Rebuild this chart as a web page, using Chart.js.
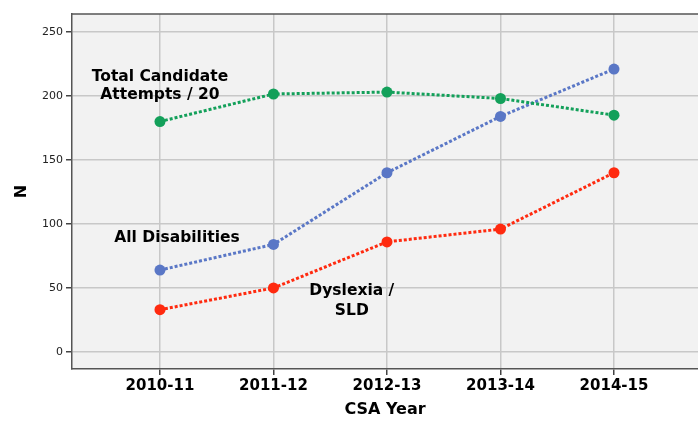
<!DOCTYPE html>
<html>
<head>
<meta charset="utf-8">
<script src="https://cdn.jsdelivr.net/npm/chart.js@4"></script>
<style>
  html, body { margin: 0; padding: 0; background: #fff; }
  #wrap { width: 698px; height: 421px; }
</style>
</head>
<body>
<div id="wrap"><canvas id="chart"></canvas></div>
<script>
const years = ["2010-11", "2011-12", "2012-13", "2013-14", "2014-15"];
const totalAttempts20 = [180, 201.5, 203, 198, 185];
const allDisabilities = [64, 84, 140, 184, 221];
const dyslexiaSld = [33, 50, 86, 96, 140];
const yTicks = [0, 50, 100, 150, 200, 250];

const toPoints = (values) => values.map((v, i) => ({ x: i, y: v }));

const font = "'DejaVu Sans', sans-serif";

// series labels sit inside the plot, placed in data units
const seriesLabels = [
  { lines: ["Total Candidate", "Attempts / 20"], x: 0.0, y: [215, 201] },
  { lines: ["All Disabilities"], x: 0.15, y: [89] },
  { lines: ["Dyslexia /", "SLD"], x: 1.69, y: [48, 32] },
];

const plotBackground = {
  id: "plotBackground",
  beforeDraw(chart) {
    const { ctx, chartArea } = chart;
    ctx.save();
    ctx.fillStyle = "#f2f2f2";
    ctx.fillRect(chartArea.left, chartArea.top, chartArea.right - chartArea.left, chartArea.bottom - chartArea.top);
    ctx.restore();
  },
  afterDatasetsDraw(chart) {
    const { ctx, chartArea, scales } = chart;
    ctx.save();
    ctx.strokeStyle = "#555";
    ctx.lineWidth = 1.5;
    ctx.beginPath();
    ctx.moveTo(chartArea.left, chartArea.top);
    ctx.lineTo(chartArea.right, chartArea.top);
    ctx.stroke();

    ctx.fillStyle = "#000";
    ctx.font = "bold 15.5px " + font;
    ctx.textAlign = "center";
    ctx.textBaseline = "middle";
    seriesLabels.forEach((lbl) => {
      lbl.lines.forEach((line, i) => {
        ctx.fillText(line, scales.x.getPixelForValue(lbl.x), scales.y.getPixelForValue(lbl.y[i]));
      });
    });
    ctx.restore();
  },
};

const makeDataset = (label, values, color) => ({
  label,
  data: toPoints(values),
  borderColor: color,
  backgroundColor: color,
  borderWidth: 3,
  borderDash: [3, 2],
  pointRadius: 5.5,
  pointHoverRadius: 5.5,
  pointBorderWidth: 0,
  tension: 0,
});

const config = {
  type: "line",
  data: {
    datasets: [
      makeDataset("Total Candidate Attempts / 20", totalAttempts20, "#13a05a"),
      makeDataset("All Disabilities", allDisabilities, "#5a77c6"),
      makeDataset("Dyslexia / SLD", dyslexiaSld, "#ff2a0f"),
    ],
  },
  options: {
    responsive: true,
    maintainAspectRatio: false,
    animation: false,
    layout: { autoPadding: false, padding: { top: 14, right: 0, left: 0, bottom: 0 } },
    plugins: {
      legend: { display: false },
      tooltip: { enabled: false },
    },
    scales: {
      x: {
        type: "linear",
        min: -0.775,
        max: 4.74,
        afterBuildTicks: (axis) => {
          axis.ticks = years.map((_, i) => ({ value: i }));
        },
        afterFit: (axis) => {
          axis.height = 52;
        },
        ticks: {
          callback: (value) => years[value],
          color: "#000",
          font: { family: font, size: 15, weight: "bold" },
          padding: 2,
          maxRotation: 0,
          autoSkip: false,
        },
        grid: {
          color: "#c8c8c8",
          lineWidth: 1.5,
          tickLength: 6,
          tickColor: "#444",
        },
        border: { color: "#555", width: 1.5 },
        title: {
          display: true,
          text: "CSA Year",
          color: "#000",
          font: { family: font, size: 16, weight: "bold" },
          padding: { top: 0, bottom: 2 },
        },
      },
      y: {
        min: -13.3,
        max: 264,
        afterBuildTicks: (axis) => {
          axis.ticks = yTicks.map((v) => ({ value: v }));
        },
        afterFit: (axis) => {
          axis.width = 72;
        },
        ticks: {
          color: "#222",
          font: { family: font, size: 11 },
          padding: 3,
        },
        grid: {
          color: "#c8c8c8",
          lineWidth: 1.5,
          tickLength: 6,
          tickColor: "#444",
        },
        border: { color: "#555", width: 1.5 },
        title: {
          display: true,
          text: "N",
          color: "#000",
          font: { family: font, size: 16, weight: "bold" },
          padding: { top: 12, bottom: 0 },
        },
      },
    },
  },
  plugins: [plotBackground],
};

new Chart(document.getElementById("chart"), config);
</script>
</body>
</html>
